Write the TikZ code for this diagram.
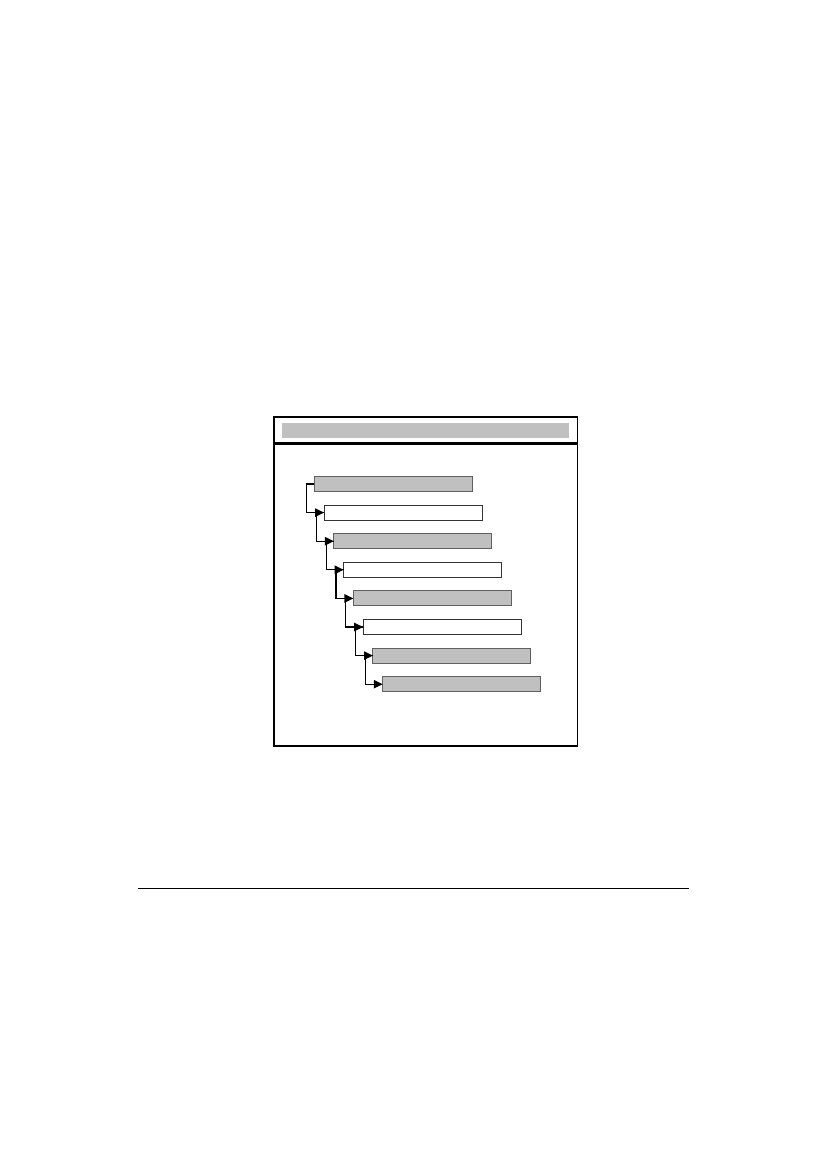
\documentclass[tikz,border=0pt]{standalone}
\usetikzlibrary{arrows.meta}
\definecolor{barfill}{HTML}{C0C0C0}
\definecolor{barline}{HTML}{606060}
\begin{document}
\begin{tikzpicture}[x=0.7195pt,y=-0.7195pt,
  bar/.style={draw=barline, line width=0.75pt, inner sep=0pt, outer sep=0pt,
    minimum width=113.7pt, minimum height=10.8pt},
  graybar/.style={bar, fill=barfill},
  whitebar/.style={bar, fill=white, draw=black!80},
  link/.style={line width=0.95pt, -{Triangle[length=6.4pt,width=6pt]}},
  frameline/.style={line width=0.95pt}]
\useasboundingbox (0,0) rectangle (827,1169);
% frame
\draw[frameline] (274,417) rectangle (577.5,746);
\draw[line width=1.5pt] (274,443.5) -- (577.5,443.5);
\node[fill=barfill, inner sep=0pt, minimum width=206.5pt, minimum height=10.8pt] (head) at (425.5,430.5) {};
% bars
\foreach \i/\st in {0/graybar,1/whitebar,2/graybar,3/whitebar,4/graybar,5/whitebar,6/graybar,7/graybar}{
  \node[\st] (b\i) at ({393.3+9.77*\i},{484+28.6*\i}) {};
}
% connectors
\foreach \i [evaluate=\i as \j using int(\i+1)] in {0,...,6}{
  \draw[link] (b\i.west) -- ++(-7.6,0) |- (b\j.west);
}
% bottom rule
\draw[line width=1.1pt] (137.5,888.5) -- (688.7,888.5);
\end{tikzpicture}
\end{document}
